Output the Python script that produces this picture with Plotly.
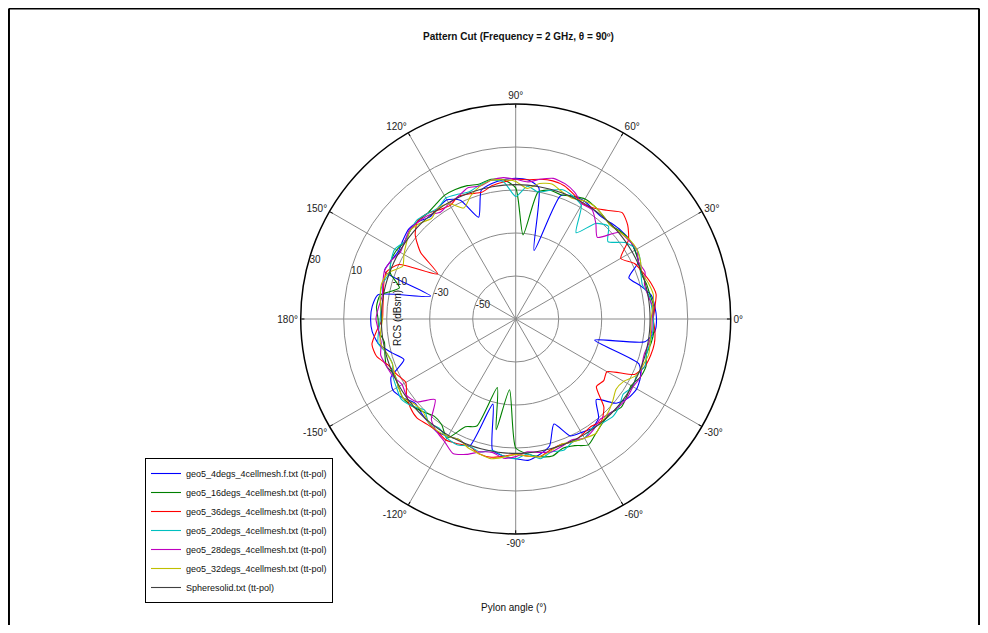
import plotly.graph_objects as go

# ---------------- data ----------------
theta_deg = list(range(0, 361, 5))

series_names = [
    "geo5_4degs_4cellmesh.f.txt (tt-pol)",
    "geo5_16degs_4cellmesh.txt (tt-pol)",
    "geo5_36degs_4cellmesh.txt (tt-pol)",
    "geo5_20degs_4cellmesh.txt (tt-pol)",
    "geo5_28degs_4cellmesh.txt (tt-pol)",
    "geo5_32degs_4cellmesh.txt (tt-pol)",
    "Spheresolid.txt (tt-pol)",
]

rcs_4degs = [-4.5, -5, -6, -10, -14, -7, -6, -5.5, -6, -7, -8, -7.5, -6.5, -7, -9, -37, -8, -5,
             -4.5, -5, -6, -8, -19.6, -9, -6, -7, -8, -6, -5, -6, -7, -6, -5, -29, -5, -3,
             -2.5, -3, -5, -10, -14.7, -6, -4, -6, -9, -8, -7, -6, -7, -8, -7, -29, -8, -6,
             -5, -4, -6, -9, -18, -10, -9, -8, -10, -17, -9, -6, -5, -6, -9, -32, -9, -5, -4.5]
rcs_16degs = [-6, -5.5, -6.5, -7, -8, -7, -6, -5.5, -6.5, -8, -7, -6, -5.5, -7, -8.5, -8, -10, -30.7,
              -9, -5, -4, -5, -4, -3.5, -3.6, -5, -6, -5.6, -6, -7, -6, -6, -8, -14, -6, -5,
              -6, -6, -8, -7, -6, -8, -7, -6, -7, -9, -11, -10, -6, -14.7, -17, -37, -17.7, -37,
              -10, -7, -5, -4, -6, -5, -2.4, -5, -7, -8, -6, -7, -8, -6, -5.5, -7, -6, -5.5, -6]
rcs_36degs = [-6, -5, -3.7, -5, -7, -9, -13.6, -6, -2, 0, -4, -7, -8, -6, -4, -3.5, -4, -5,
              -5, -6, -7, -9, -8, -7, -9, -8, -6, -5.5, -9, -16, -28, -10, -6, -6.5, -7.5, -8,
              -8, -5, -2.1, -3, -7, -9, -11, -8, -6, -5, -6, -6.2, -5, -6, -7, -5, -4.7, -6,
              -7, -6, -5, -7, -8, -7, -8, -9, -8, -12, -21, -20, -21, -9, -6, -5, -4.5, -5, -6]
rcs_20degs = [-6, -6.5, -7, -9, -8, -6, -5, -8, -14, -9, -12, -21, -9, -7, -6, -8, -10, -8,
              -13, -6, -4.5, -5.5, -7, -6, -5, -7, -6, -5, -6, -7, -5, -6, -7.5, -6, -6, -7,
              -7, -6, -5, -8, -9, -7, -6, -5, -7, -10, -7, -8, -6, -5.5, -7, -6, -8, -6,
              -5, -7, -4, -6, -5, -7, -6, -8, -7, -6, -7, -9, -7, -8, -6, -7, -6.5, -6, -6]
rcs_28degs = [-6.5, -6, -7.5, -8, -6, -7, -5, -6, -7.2, -16.3, -12, -8, -8.2, -5, -3, -2.3, -4, -6,
              -5, -4, -4.5, -6, -5, -7, -8, -9.2, -7, -6, -5.5, -7, -8, -6, -5, -6, -7, -6,
              -5, -6, -6.5, -5, -6, -7, -9, -8, -10, -17, -9, -6, -4, -1, -3, -6, -7, -5,
              -6, -8, -7, -6, -7, -8, -6, -7, -9, -8, -7, -6.5, -7, -6, -7.5, -8, -7, -6.5, -6.5]
rcs_32degs = [-7, -6, -5, -6, -7.5, -6, -5, -5.5, -7, -8, -7, -6, -6.5, -8, -7, -5, -6, -9,
              -6, -5, -4.5, -6, -9, -13, -8, -7, -9, -7, -6, -8, -10, -12, -7, -5.5, -6, -7,
              -8, -7, -6, -8, -9, -8, -7, -6, -8.5, -9, -7, -6.5, -7, -8, -6, -5, -4, -5.5,
              -7, -6, -5, -6.5, -8, -7, -6, -5, -7.5, -9, -11, -13, -12, -8, -7, -6, -6.5, -7, -7]
rcs_sphere = [-7.5, -7.5, -7.5, -7.5, -7.5, -7.5, -7.5, -7.5, -7.5, -7.5, -7.5, -7.5, -7.5, -7.5,
              -7.5, -7.5, -7.5, -7.5, -7.5, -7.5, -7.5, -7.5, -7.5, -7.5, -7.5, -7.5, -7.5, -7.5,
              -7.5, -7.5, -7.5, -7.5, -7.5, -7.5, -7.5, -7.5, -7.5, -7.5, -7.5, -7.5, -7.5, -7.5,
              -7.5, -7.5, -7.5, -7.5, -7.5, -7.5, -7.5, -7.5, -7.5, -7.5, -7.5, -7.5, -7.5, -7.5,
              -7.5, -7.5, -7.5, -7.5, -7.5, -7.5, -7.5, -7.5, -7.5, -7.5, -7.5, -7.5, -7.5, -7.5,
              -7.5, -7.5, -7.5]

radial_ticks = [-50, -30, -10, 10, 30]
radial_ticktext = ["-50", "-30", "-10", "10", "30"]
radial_range = [-70, 30]
angle_tickvals = [0, 30, 60, 90, 120, 150, 180, 210, 240, 270, 300, 330]
angle_ticktext = ["0°", "30°", "60°", "90°", "120°", "150°", "180°",
                  "-150°", "-120°", "-90°", "-60°", "-30°"]

colors = ["#0000FF", "#008000", "#FF0000", "#00BFBF", "#BF00BF", "#BFBF00", "#404040"]
all_series = [rcs_4degs, rcs_16degs, rcs_36degs, rcs_20degs, rcs_28degs, rcs_32degs, rcs_sphere]

# ---------------- figure ----------------
# the page body adds an 8px offset, so the figure is laid out in (screen - 8) pixels
W, H = 972, 617
OFF = 8
cx, cy, R = 515.7 - OFF, 319.0 - OFF, 215.0


def px(x):
    return x / W


def py(y):
    return 1 - y / H


fig = go.Figure()
for name, vals, col in zip(series_names, all_series, colors):
    fig.add_trace(go.Scatterpolar(
        r=vals, theta=theta_deg, mode="lines", name=name,
        line=dict(color=col, width=1.1, shape="spline", smoothing=0.6),
    ))

font_family = "Liberation Sans, Arial, sans-serif"

frame_line = dict(color="black", width=2)

fig.update_layout(
    width=W, height=H,
    margin=dict(l=0, r=0, t=0, b=0),
    paper_bgcolor="white",
    font=dict(family=font_family, size=10, color="#222"),
    polar=dict(
        domain=dict(x=[px(cx - R), px(cx + R)], y=[py(cy + R), py(cy - R)]),
        bgcolor="white",
        radialaxis=dict(
            range=radial_range, tickmode="array", tickvals=radial_ticks, ticktext=radial_ticktext,
            angle=165, tickangle=165, showline=False, ticks="",
            gridcolor="#8a8a8a", gridwidth=1,
            tickfont=dict(size=10, color="#222"),
        ),
        angularaxis=dict(
            rotation=0, direction="counterclockwise",
            tickmode="array", tickvals=angle_tickvals, ticktext=angle_ticktext,
            showline=True, linecolor="black", linewidth=1.5,
            gridcolor="#8a8a8a", gridwidth=1,
            ticks="inside", ticklen=3, tickcolor="black",
            tickfont=dict(size=10, color="#222"),
        ),
    ),
    showlegend=True,
    legend=dict(
        x=px(145 - OFF), y=py(458 - OFF), xanchor="left", yanchor="top",
        bordercolor="black", borderwidth=1, bgcolor="white",
        font=dict(size=9, color="#111"), tracegroupgap=0,
        itemwidth=30,
    ),
    annotations=[
        dict(text="<b>Pattern Cut (Frequency = 2 GHz, θ = 90º)</b>", x=px(519 - OFF), y=py(37 - OFF),
             xref="paper", yref="paper", showarrow=False, yanchor="middle",
             font=dict(size=10, color="#111")),
        dict(text="RCS (dBsm)", x=px(397 - OFF), y=py(318 - OFF), xref="paper", yref="paper",
             showarrow=False, textangle=-90, yanchor="middle", font=dict(size=10, color="#111")),
        dict(text="Pylon angle (°)", x=px(514 - OFF), y=py(607 - OFF), xref="paper", yref="paper",
             showarrow=False, yanchor="middle", font=dict(size=10, color="#111")),
    ],
    shapes=[
        dict(type="line", xref="paper", yref="paper", x0=0.001, x1=0.999, y0=0.999, y1=0.999,
             line=frame_line, layer="below"),
        dict(type="line", xref="paper", yref="paper", x0=0.001, x1=0.001, y0=0, y1=0.999,
             line=frame_line, layer="below"),
        dict(type="line", xref="paper", yref="paper", x0=0.999, x1=0.999, y0=0, y1=0.999,
             line=frame_line, layer="below"),
    ],
)

fig.write_html("out.html")
